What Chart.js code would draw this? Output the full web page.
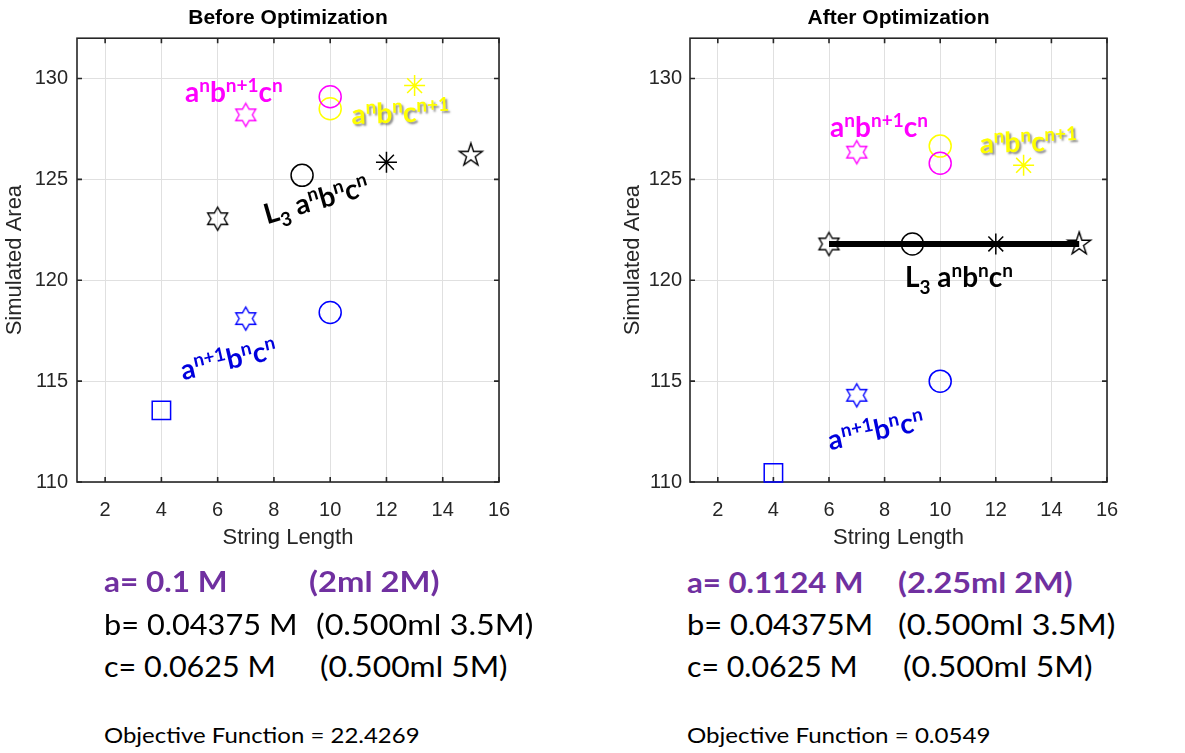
<!DOCTYPE html>
<html>
<head>
<meta charset="utf-8">
<title>String length vs simulated area</title>
<script src="https://cdn.jsdelivr.net/npm/chart.js@4.4.1/dist/chart.umd.min.js"></script>
<style>
  html, body { margin: 0; padding: 0; background: #fff; }
  body { width: 1185px; height: 753px; position: relative; overflow: hidden; font-family: Lato, sans-serif; }
  .plot { position: absolute; top: 0; }
  #wrapBefore { left: 0; }
  #wrapAfter { left: 600px; }
  .note { position: absolute; white-space: pre; color: #000; line-height: 1; transform-origin: 0 0; }
  .conc { font-size: 28px; }
  .conc.a { color: #7030a0; font-weight: bold; }
  .obj { font-size: 21px; }
</style>
</head>
<body>
<div class="plot" id="wrapBefore"><canvas id="before" width="540" height="565"></canvas></div>
<div class="plot" id="wrapAfter"><canvas id="after" width="585" height="565"></canvas></div>

<!-- concentrations, before -->
<span class="note conc a" style="left:104px; top:567px" data-w="124">a= 0.1 M</span>
<span class="note conc a" style="left:309px; top:567px" data-w="131">(2ml 2M)</span>
<span class="note conc" style="left:104px; top:610px" data-w="193">b= 0.04375 M</span>
<span class="note conc" style="left:316px; top:610px" data-w="217">(0.500ml 3.5M)</span>
<span class="note conc" style="left:104px; top:652px" data-w="172">c= 0.0625 M</span>
<span class="note conc" style="left:320px; top:652px" data-w="188">(0.500ml 5M)</span>
<span class="note obj" style="left:104px; top:724px" data-w="316">Objective Function = 22.4269</span>

<!-- concentrations, after -->
<span class="note conc a" style="left:687px; top:568px" data-w="176">a= 0.1124 M</span>
<span class="note conc a" style="left:898px; top:568px" data-w="175">(2.25ml 2M)</span>
<span class="note conc" style="left:687px; top:610px" data-w="186">b= 0.04375M</span>
<span class="note conc" style="left:898px; top:610px" data-w="217">(0.500ml 3.5M)</span>
<span class="note conc" style="left:687px; top:652px" data-w="171">c= 0.0625 M</span>
<span class="note conc" style="left:903px; top:652px" data-w="190">(0.500ml 5M)</span>
<span class="note obj" style="left:687px; top:724px" data-w="303">Objective Function = 0.0549</span>

<script>
/* ---------- data: string length (x) and simulated area (y) ---------- */

// a^(n+1) b^n c^n
const beforeBlueX = [4, 7, 10];
const beforeBlueY = [113.55, 118.1, 118.4];
// L3 a^n b^n c^n
const beforeBlackX = [6, 9, 12, 15];
const beforeBlackY = [123.05, 125.2, 125.85, 126.2];
// a^n b^(n+1) c^n
const beforeMagentaX = [7, 10];
const beforeMagentaY = [128.2, 129.1];
// a^n b^n c^(n+1)
const beforeYellowX = [10, 13];
const beforeYellowY = [128.5, 129.65];

const afterBlueX = [4, 7, 10];
const afterBlueY = [110.45, 114.3, 115.0];
const afterBlackX = [6, 9, 12, 15];
const afterBlackY = [121.8, 121.8, 121.8, 121.8];
const afterMagentaX = [7, 10];
const afterMagentaY = [126.35, 125.8];
const afterYellowX = [10, 13];
const afterYellowY = [126.65, 125.7];

// marker per point, MATLAB style
const blueMarkers = ["square", "hexagram", "circle"];
const blackMarkers = ["hexagram", "circle", "asterisk", "pentagram"];
const magentaMarkers = ["hexagram", "circle"];
const yellowMarkers = ["circle", "asterisk"];

const xRange = [1, 16];
const yRange = [110, 132];
const xStep = 2;
const yStep = 5;

/* ---------- styling ---------- */
const BLUE = "#0000ff";
const BLACK = "#000000";
const MAGENTA = "#ff00ff";
const YELLOW = "#ffff00";
const AXIS_INK = "#262626";

Chart.defaults.font.family = "'Liberation Sans', Arial, sans-serif";
Chart.defaults.color = AXIS_INK;

// outlined star polygons used as point images
function starMarker(spikes, outerR, innerR, color) {
  const size = Math.ceil(2 * (outerR + 2));
  const c = document.createElement("canvas");
  c.width = c.height = size;
  const g = c.getContext("2d");
  g.translate(size / 2, size / 2);
  g.beginPath();
  for (let i = 0; i < spikes * 2; i++) {
    const r = i % 2 ? innerR : outerR;
    const a = -Math.PI / 2 + i * Math.PI / spikes;
    g.lineTo(r * Math.cos(a), r * Math.sin(a));
  }
  g.closePath();
  g.strokeStyle = color;
  g.lineWidth = 1.4;
  g.stroke();
  return c;
}

const markerCache = {};
function markerStyle(kind, color) {
  if (kind === "circle") return { style: "circle", r: 11 };
  if (kind === "square") return { style: "rect", r: 13 };
  if (kind === "asterisk") return { style: "star", r: 10.5 };
  const key = kind + color;
  if (!markerCache[key]) {
    markerCache[key] = kind === "hexagram"
      ? starMarker(6, 11.5, 11.5 / Math.sqrt(3), color)
      : starMarker(5, 12, 12 * 0.382, color);
  }
  return { style: markerCache[key], r: 11 };
}

function series(xs, ys, markers, color, line) {
  const m = markers.map(k => markerStyle(k, color));
  return {
    data: xs.map((x, i) => ({ x, y: ys[i] })),
    showLine: !!line,
    borderColor: color,
    borderWidth: line ? 6 : 0,
    pointStyle: m.map(p => p.style),
    pointRadius: m.map(p => p.r),
    pointBorderColor: color,
    pointBackgroundColor: "rgba(0,0,0,0)",
    pointBorderWidth: 1.5,
    clip: false
  };
}

/* ---------- plugins ---------- */

// axes box with inward ticks
const boxPlugin = {
  id: "axesBox",
  beforeDatasetsDraw(chart) {
    const { ctx, chartArea: a, scales: { x, y } } = chart;
    ctx.save();
    ctx.strokeStyle = AXIS_INK;
    ctx.lineWidth = 1.6;
    ctx.strokeRect(a.left, a.top, a.right - a.left, a.bottom - a.top);
    ctx.beginPath();
    x.ticks.forEach(t => {
      const px = x.getPixelForValue(t.value);
      ctx.moveTo(px, a.bottom); ctx.lineTo(px, a.bottom - 5);
      ctx.moveTo(px, a.top); ctx.lineTo(px, a.top + 5);
    });
    y.ticks.forEach(t => {
      const py = y.getPixelForValue(t.value);
      ctx.moveTo(a.left, py); ctx.lineTo(a.left + 5, py);
      ctx.moveTo(a.right, py); ctx.lineTo(a.right - 5, py);
    });
    ctx.stroke();
    ctx.restore();
  }
};

// formula text with super/subscripts, anchored at data coordinates
const MAIN_SIZE = 28, SCRIPT_SIZE = 19, RAISE = 10, DROP = 7;
const formulaPlugin = {
  id: "formulaLabels",
  afterDatasetsDraw(chart, args, opts) {
    const { ctx, scales: { x, y } } = chart;
    (opts.items || []).forEach(item => {
      ctx.save();
      ctx.translate(x.getPixelForValue(item.x), y.getPixelForValue(item.y));
      ctx.rotate(item.angle * Math.PI / 180);
      ctx.fillStyle = item.color;
      ctx.textBaseline = "alphabetic";
      if (item.shadow) {
        ctx.shadowColor = "rgba(70,70,70,0.6)";
        ctx.shadowOffsetX = 2;
        ctx.shadowOffsetY = 2;
        ctx.shadowBlur = 2;
      }
      let cx = 0;
      item.parts.forEach(([txt, pos]) => {
        ctx.font = "bold " + (pos ? SCRIPT_SIZE : MAIN_SIZE) + "px Lato, sans-serif";
        ctx.fillText(txt, cx, pos > 0 ? -RAISE : pos < 0 ? DROP : 0);
        cx += ctx.measureText(txt).width;
      });
      ctx.restore();
    });
  }
};

const F_A1 = [["a", 0], ["n+1", 1], ["b", 0], ["n", 1], ["c", 0], ["n", 1]];
const F_B1 = [["a", 0], ["n", 1], ["b", 0], ["n+1", 1], ["c", 0], ["n", 1]];
const F_C1 = [["a", 0], ["n", 1], ["b", 0], ["n", 1], ["c", 0], ["n+1", 1]];
const F_L3 = [["L", 0], ["3", -1], [" a", 0], ["n", 1], ["b", 0], ["n", 1], ["c", 0], ["n", 1]];

/* ---------- chart builder ---------- */
function makeChart(id, title, datasets, labels, yAxisWidth, yTitlePad, yTickPad, padRight) {
  return new Chart(document.getElementById(id), {
    type: "scatter",
    data: { datasets },
    plugins: [boxPlugin, formulaPlugin],
    options: {
      responsive: false,
      animation: false,
      events: [],
      layout: { padding: { left: 0, right: padRight, top: 0, bottom: 0 } },
      plugins: {
        legend: { display: false },
        tooltip: { enabled: false },
        title: {
          display: true,
          text: title,
          fullSize: false,
          color: "#000",
          font: { size: 21, weight: "bold" },
          padding: { top: 6, bottom: 7 }
        },
        formulaLabels: { items: labels }
      },
      scales: {
        x: {
          type: "linear",
          min: xRange[0], max: xRange[1],
          ticks: { stepSize: xStep, includeBounds: false, font: { size: 20 }, padding: 16, color: AXIS_INK },
          grid: { color: "#e0e0e0", drawTicks: false },
          border: { display: false },
          title: { display: true, text: "String Length", font: { size: 22 }, color: AXIS_INK, padding: { top: 0, bottom: 14 } },
          afterFit: s => { s.height = 83; }
        },
        y: {
          type: "linear",
          min: yRange[0], max: yRange[1],
          ticks: { stepSize: yStep, includeBounds: false, font: { size: 20 }, padding: yTickPad, color: AXIS_INK },
          grid: { color: "#e0e0e0", drawTicks: false },
          border: { display: false },
          title: { display: true, text: "Simulated Area", font: { size: 22 }, color: AXIS_INK, padding: { top: yTitlePad, bottom: 0 } },
          afterFit: s => { s.width = yAxisWidth; }
        }
      }
    }
  });
}

makeChart("before", "Before Optimization", [
  series(beforeBlueX, beforeBlueY, blueMarkers, BLUE),
  series(beforeBlackX, beforeBlackY, blackMarkers, BLACK),
  series(beforeMagentaX, beforeMagentaY, magentaMarkers, MAGENTA),
  series(beforeYellowX, beforeYellowY, yellowMarkers, YELLOW)
], [
  { x: 4.84, y: 128.83, angle: 0, color: MAGENTA, parts: F_B1 },
  { x: 10.77, y: 127.74, angle: -2, color: YELLOW, shadow: true, parts: F_C1 },
  { x: 7.75, y: 122.78, angle: -16, color: BLACK, parts: F_L3 },
  { x: 4.77, y: 115.05, angle: -13, color: "#0000dd", parts: F_A1 }
], 77, 2, 9, 41);

makeChart("after", "After Optimization", [
  series(afterBlueX, afterBlueY, blueMarkers, BLUE),
  series(afterBlackX, afterBlackY, blackMarkers, BLACK, true),
  series(afterMagentaX, afterMagentaY, magentaMarkers, MAGENTA),
  series(afterYellowX, afterYellowY, yellowMarkers, YELLOW)
], [
  { x: 6.04, y: 127.09, angle: 0, color: MAGENTA, parts: F_B1 },
  { x: 11.43, y: 126.3, angle: -2, color: YELLOW, shadow: true, parts: F_C1 },
  { x: 8.73, y: 119.66, angle: 0, color: BLACK, parts: F_L3 },
  { x: 6.04, y: 111.58, angle: -12, color: "#0000dd", parts: F_A1 }
], 90, 20, 8, 78);

/* ---------- stretch the note lines to their column widths ---------- */
document.querySelectorAll(".note").forEach(el => {
  const w = Number(el.dataset.w);
  if (w && el.offsetWidth) el.style.transform = "scaleX(" + (w / el.offsetWidth).toFixed(3) + ")";
});
</script>
</body>
</html>
